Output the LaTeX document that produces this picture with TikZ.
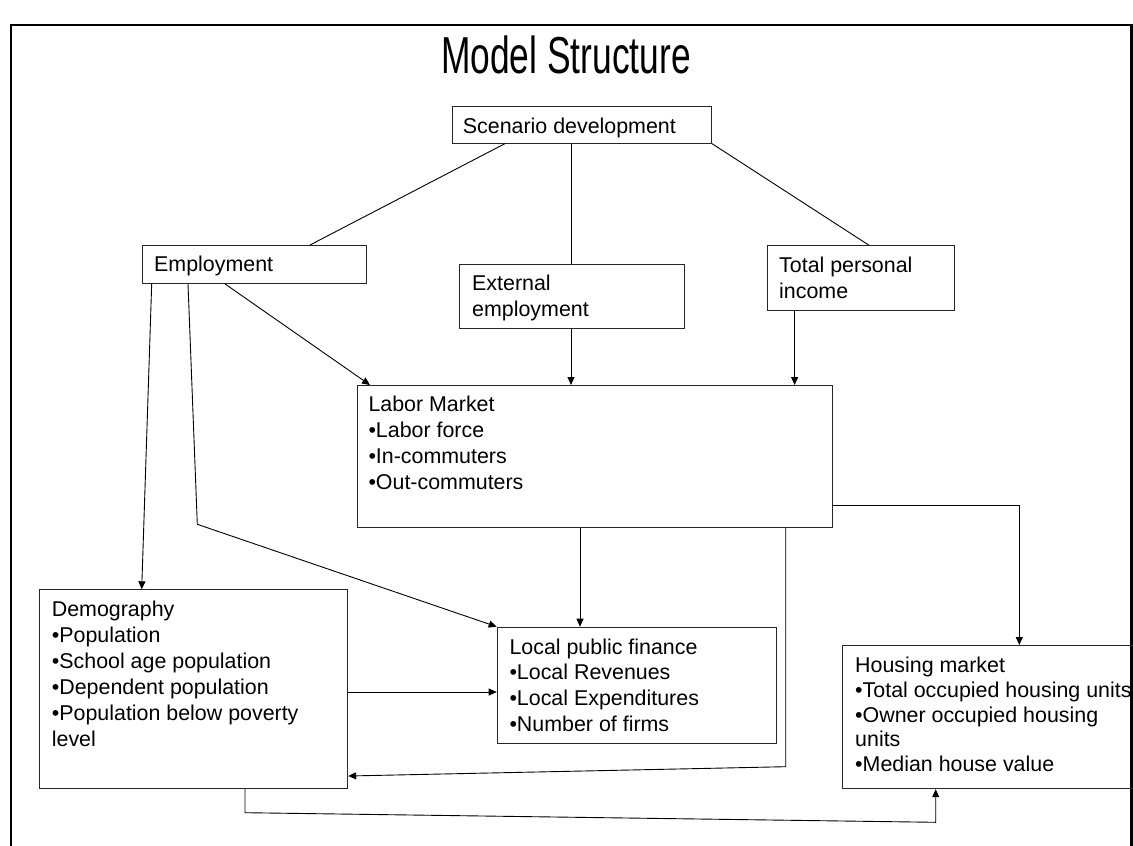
\documentclass[tikz,border=0pt]{standalone}
\usepackage{fontspec}
\setmainfont{Liberation Sans}
\usetikzlibrary{arrows.meta}
\begin{document}
\begin{tikzpicture}[x=1pt,y=-1pt,
  box/.style={draw=black!85, line width=0.9pt, inner sep=0pt, anchor=north west},
  txt/.style={anchor=base west, inner sep=0pt, font=\fontsize{21.4}{26}\selectfont},
  conn/.style={draw=black, line width=0.9pt},
  arr/.style={conn, -{Triangle[length=8pt,width=7pt]}}]
\clip (0,0) rectangle (1133,846);
\fill[white] (0,0) rectangle (1133,846);
% frame
\draw[line width=2.5pt] (11,870) -- (11,25) -- (1131.5,25) -- (1131.5,870);
% title
\node[inner sep=0pt, anchor=base] (title) at (566,73) {\scalebox{0.68}[1]{\fontsize{52}{60}\selectfont Model Structure}};
% boxes
\node[box, minimum width=259pt, minimum height=37pt] (scen) at (452,105.7) {};
\node[box, minimum width=224.3pt, minimum height=38pt] (emp) at (141.7,245) {};
\node[box, minimum width=225pt, minimum height=64.3pt] (ext) at (458.6,264) {};
\node[box, minimum width=187.5pt, minimum height=65pt] (tpi) at (766.8,245) {};
\node[box, minimum width=475.3pt, minimum height=142.3pt] (lab) at (356.7,385) {};
\node[box, minimum width=308.3pt, minimum height=199pt] (demo) at (39,589.3) {};
\node[box, minimum width=279.3pt, minimum height=116pt] (lpf) at (496.7,626.7) {};
\node[box, minimum width=310pt, minimum height=143.3pt] (hou) at (841.7,645) {};
% texts
\node[txt] (scen-t) at (462.7,133) {Scenario development};
\node[txt] (emp-t) at (154,271.7) {Employment};
\foreach \t [count=\i] in {External,employment}
  \node[txt] (ext-t\i) at ({472},{290+(\i-1)*26}) {\t};
\foreach \t [count=\i] in {Total personal,income}
  \node[txt] (tpi-t\i) at ({779},{272.3+(\i-1)*26}) {\t};
\foreach \t [count=\i] in {Labor Market,•Labor force,•In-commuters,•Out-commuters}
  \node[txt] (lab-t\i) at ({368.3},{411.7+(\i-1)*25.9}) {\t};
\foreach \t [count=\i] in {Demography,•Population,•School age population,•Dependent population,•Population below poverty,level}
  \node[txt] (demo-t\i) at ({51.7},{616+(\i-1)*26.1}) {\t};
\foreach \t [count=\i] in {Local public finance,•Local Revenues,•Local Expenditures,•Number of firms}
  \node[txt] (lpf-t\i) at ({509.3},{654+(\i-1)*25.9}) {\t};
\foreach \t [count=\i] in {Housing market,•Total occupied housing units,•Owner occupied housing,units,•Median house value}
  \node[txt] (hou-t\i) at ({855},{672.3+(\i-1)*24.85}) {\t};
% connectors
\draw[conn] (505,0 |- scen.south) -- (310,0 |- emp.north);
\draw[conn] (571,0 |- scen.south) -- (571,0 |- ext.north);
\draw[conn] (scen.south east) -- (868.6,0 |- tpi.north);
\draw[arr] (151.7,0 |- emp.south) -- (141.7,0 |- demo.north);
\coordinate (e2) at (197.3,524.3);
\draw[arr] (188,0 |- emp.south) -- (e2) -- (lpf.north west);
\draw[arr] (225,0 |- emp.south) -- (370,0 |- lab.north);
\draw[arr] (571,0 |- ext.south) -- (571,0 |- lab.north);
\draw[arr] (794.6,0 |- tpi.south) -- (794.6,0 |- lab.north);
\draw[arr] (580,0 |- lab.south) -- (580,0 |- lpf.north);
\coordinate (l2) at (785.7,766.7);
\draw[arr] (785.7,0 |- lab.south) -- (l2) -- (demo.east |- 0,776);
\coordinate (l3) at (1019.3,505.7);
\draw[arr] (lab.east |- l3) -- (l3) -- (1019.3,0 |- hou.north);
\draw[arr] (demo.east |- 0,692) -- (lpf.west |- 0,692);
\coordinate (d1) at (245,812.7);
\coordinate (d2) at (935.7,822.3);
\draw[arr] (245,0 |- demo.south) -- (d1) -- (d2) -- (935.7,0 |- hou.south);
\end{tikzpicture}
\end{document}
